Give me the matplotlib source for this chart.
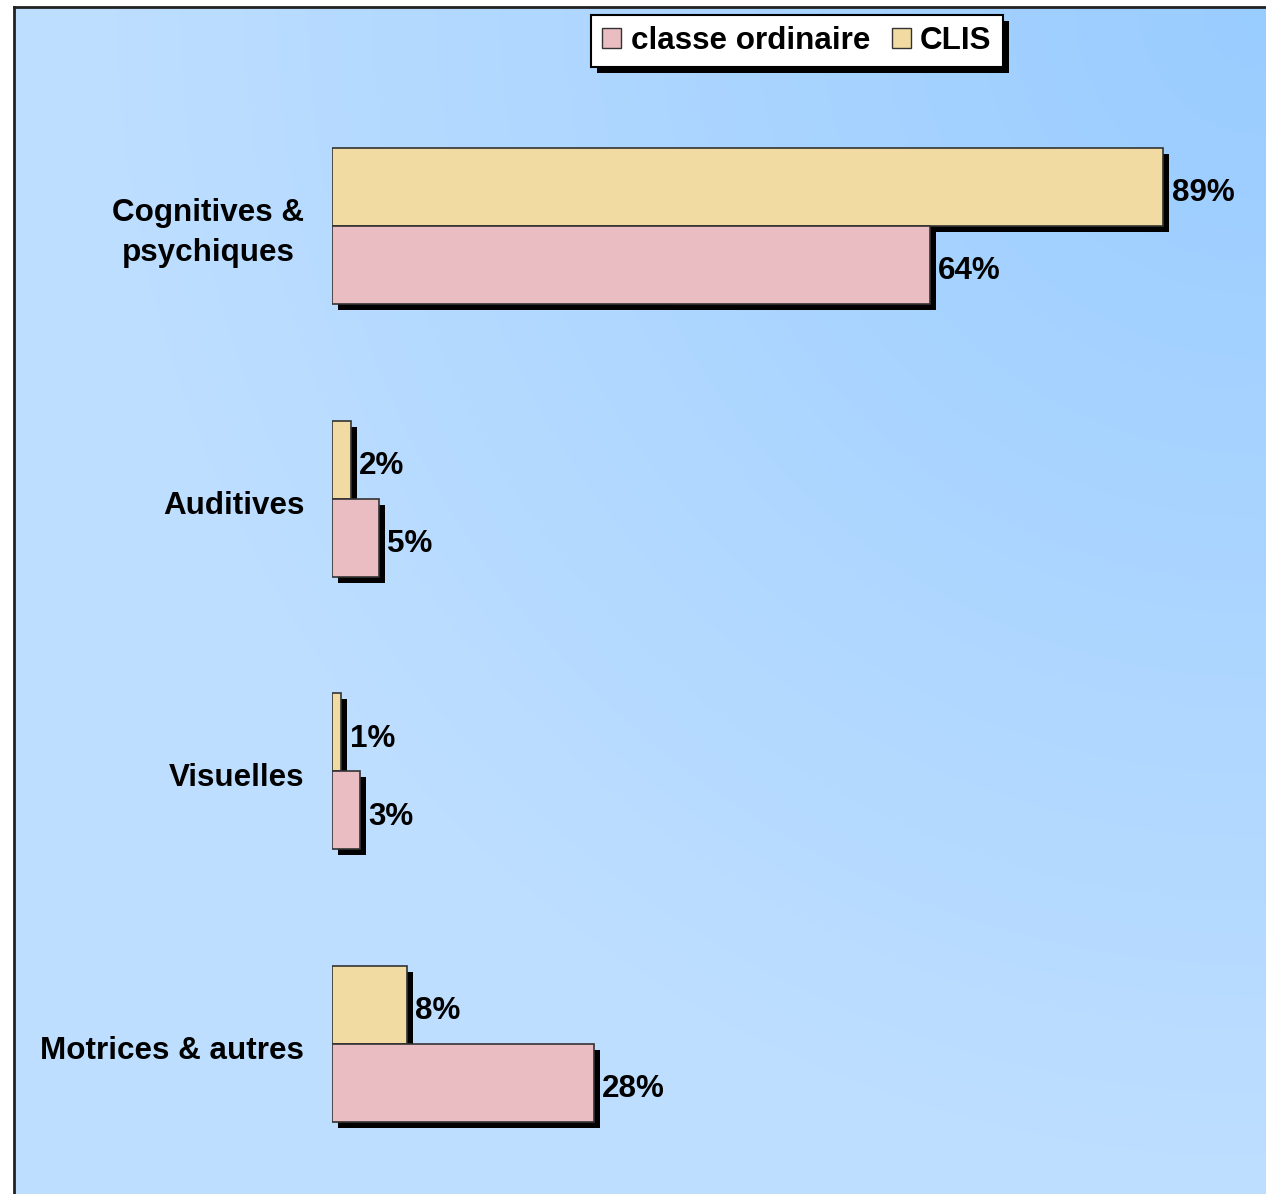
import matplotlib
matplotlib.use('Agg')
import matplotlib.pyplot as plt
import numpy as np
from matplotlib.patches import Rectangle, Patch
from matplotlib.transforms import ScaledTranslation

# données (%)
categories = ['Cognitives &\npsychiques', 'Auditives', 'Visuelles', 'Motrices & autres']
clis = [89, 2, 1, 8]
ordinaire = [64, 5, 3, 28]
series_names = ['classe ordinaire', 'CLIS']

col_ord = '#E9BDC2'
col_clis = '#F1DBA2'
W, H = 1266, 1194
plt.rcParams['font.family'] = ['Liberation Sans', 'DejaVu Sans']
FS = 22.6

fig = plt.figure(figsize=(W / 100, H / 100), dpi=100)
fig.patch.set_facecolor('white')

# fond dégradé (plus foncé vers le coin haut droit)
bg = fig.add_axes([14 / W, 0, (W - 14) / W, (H - 7) / H], zorder=0)
yy, xx = np.mgrid[0:H - 7, 14:W]
d = np.hypot(xx - W, yy)
t = np.clip(d / 1150.0, 0, 1)
light = np.array([189, 222, 255]) / 255
dark = np.array([153, 204, 255]) / 255
img = dark + (light - dark) * t[..., None]
bg.imshow(img, aspect='auto', extent=(0, 1, 0, 1), origin='upper')
bg.set_xticks([])
bg.set_yticks([])
for s in ['right', 'bottom']:
    bg.spines[s].set_visible(False)
for s in ['left', 'top']:
    bg.spines[s].set_linewidth(2)
    bg.spines[s].set_color('#222222')

ax = fig.add_axes([332 / W, 0, (W - 332) / W, 1], zorder=1)
ax.patch.set_visible(False)
ax.set_xlim(0, 100)
ax.set_ylim(3.550, -0.829)
ax.axis('off')

bh = 0.286
ypos = np.arange(len(categories))
shadow_tr = ax.transData + ScaledTranslation(6 / 100, -6 / 100, fig.dpi_scale_trans)

for i in ypos:
    pairs = [(clis[i], i - bh / 2, col_clis), (ordinaire[i], i + bh / 2, col_ord)]
    for v, yc, c in pairs:
        ax.add_patch(Rectangle((0, yc - bh / 2), v, bh, transform=shadow_tr,
                               facecolor='black', edgecolor='none', zorder=2))
    for v, yc, c in pairs:
        ax.add_patch(Rectangle((0, yc - bh / 2), v, bh, facecolor=c,
                               edgecolor='#333333', linewidth=1.2, zorder=3))
        ax.annotate(f'{v}%', (v, yc), xytext=(6, -4.5), textcoords='offset points',
                    ha='left', va='center', fontsize=FS, fontweight='bold', zorder=4)
    ax.annotate(categories[i], (0, i), xytext=(-20, -5), textcoords='offset points',
                ha='right', va='center', multialignment='center',
                fontsize=FS, fontweight='bold', linespacing=1.45)

handles = [Patch(facecolor=col_ord, edgecolor='#333333', linewidth=1),
           Patch(facecolor=col_clis, edgecolor='#333333', linewidth=1)]
leg = fig.legend(handles, series_names, loc='center', bbox_to_anchor=(797 / W, 1 - 41 / H),
                 ncol=2, frameon=True, fancybox=False, framealpha=1,
                 prop={'size': FS, 'weight': 'bold'},
                 handlelength=0.6, handleheight=0.6, handletextpad=0.3,
                 columnspacing=0.7, borderpad=0.36, borderaxespad=0)
leg.get_frame().set_edgecolor('black')
leg.get_frame().set_facecolor('white')
leg.get_frame().set_linewidth(1.5)
leg.set_zorder(6)

# ombre de la légende
fig.canvas.draw()
bb = leg.get_window_extent().transformed(fig.transFigure.inverted())
fig.add_artist(Rectangle((bb.x0 + 6 / W, bb.y0 - 6 / H), bb.width, bb.height,
                         transform=fig.transFigure, facecolor='black',
                         edgecolor='none', zorder=5))

fig.savefig('out.png', dpi=100)
